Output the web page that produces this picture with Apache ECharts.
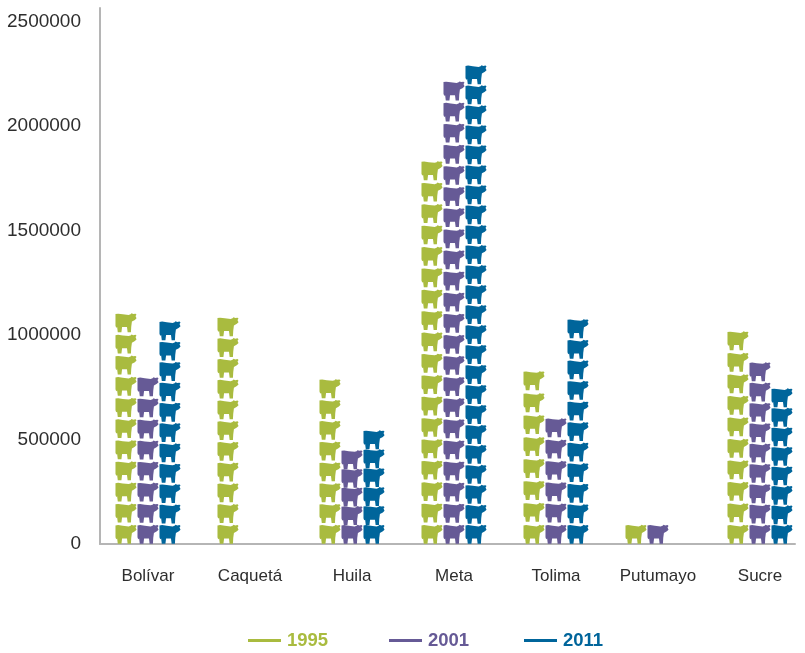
<!DOCTYPE html>
<html>
<head>
<meta charset="utf-8">
<style>
  html, body { margin: 0; padding: 0; background: #fff; }
  #chart { width: 805px; height: 653px; }
</style>
<script src="https://cdn.jsdelivr.net/npm/echarts@6/dist/echarts.min.js"></script>
</head>
<body>
<div id="chart"></div>
<script>
const departments = ['Bolívar', 'Caquetá', 'Huila', 'Meta', 'Tolima', 'Putumayo', 'Sucre'];

const values1995 = [1105000, 1086000, 790000, 1833000, 828000, 91000, 1019000];
const values2001 = [799000, null, 450000, 2215000, 603000, 77000, 871000];
const values2011 = [1067000, null, 545000, 2292000, 1077000, null, 746000];

// how many cows are stacked in each bar
const cows1995 = [11, 11, 8, 18, 8, 1, 10];
const cows2001 = [8, 0, 5, 22, 6, 1, 9];
const cows2011 = [11, 0, 6, 24, 11, 0, 8];

const colors = { 1995: '#a9bb3f', 2001: '#665a96', 2011: '#00659b' };
const axisColor = '#b5b5b5';
const textColor = '#2e2e2e';
const fontFamily = '"Liberation Sans", sans-serif';
const yMax = 2565000;

const cowPath = 'path://M0 2 L8 1 L22 3 L40 5 L46 3 L49 0 L54 2 L61 1 L64 4 L61 8 L64 15 L59 20 ' +
  'L50 25 L48 40 L47 58 L37 58 L35 42 L20 42 L18 58 L7 58 L5 42 L2 44 L0 38 Z';

function cowSeries(name, values, counts) {
  return {
    type: 'pictorialBar',
    name: name,
    xAxisIndex: 0,
    yAxisIndex: 0,
    barWidth: 22,
    barGap: '0%',
    symbol: cowPath,
    symbolSize: [21, 19],
    itemStyle: { color: colors[name], borderColor: colors[name], borderWidth: 0.5 },
    data: values.map((v, i) => ({
      value: v,
      symbolBoundingData: v,
      symbolRepeat: counts[i] || 1
    }))
  };
}

function legendFor(name, left) {
  return {
    left: left,
    top: 631,
    padding: 0,
    itemWidth: 33,
    itemHeight: 3,
    itemGap: 0,
    data: [{
      name: name,
      icon: 'rect',
      itemStyle: { color: colors[name], borderWidth: 0 },
      textStyle: { color: colors[name] }
    }],
    textStyle: {
      fontFamily: fontFamily,
      fontSize: 18.5,
      fontWeight: 'bold',
      padding: [0, 0, 0, 1]
    }
  };
}

const chart = echarts.init(document.getElementById('chart'));
window.addEventListener('resize', function() {
  chart.resize();
});

chart.setOption({
  animation: false,
  backgroundColor: '#ffffff',
  legend: [legendFor('1995', 248), legendFor('2001', 389), legendFor('2011', 524)],
  // first grid carries the cows, second only draws the visible axis lines
  grid: [
    { left: 97, width: 714, top: 8, bottom: 109, outerBoundsMode: 'none' },
    { left: 100, width: 695, top: 8, bottom: 109, outerBoundsMode: 'none' }
  ],
  xAxis: [
    {
      type: 'category',
      gridIndex: 0,
      data: departments,
      axisLine: { show: false },
      axisTick: { show: false },
      axisLabel: {
        color: textColor,
        fontFamily: fontFamily,
        fontSize: 17,
        interval: 0,
        margin: 24
      }
    },
    {
      type: 'category',
      gridIndex: 1,
      data: departments,
      axisLine: { lineStyle: { color: axisColor, width: 2 } },
      axisTick: { show: false },
      axisLabel: { show: false }
    }
  ],
  yAxis: [
    {
      type: 'value',
      gridIndex: 0,
      min: 0,
      max: yMax,
      show: false,
      splitLine: { show: false }
    },
    {
      type: 'value',
      gridIndex: 1,
      min: 0,
      max: yMax,
      interval: 500000,
      axisLine: { show: true, lineStyle: { color: axisColor, width: 2 } },
      axisTick: { show: false },
      splitLine: { show: false },
      axisLabel: {
        color: textColor,
        fontFamily: fontFamily,
        fontSize: 19,
        margin: 19,
        showMaxLabel: false,
        formatter: function (value) {
          return String(value);
        }
      }
    }
  ],
  series: [
    cowSeries('1995', values1995, cows1995),
    cowSeries('2001', values2001, cows2001),
    cowSeries('2011', values2011, cows2011)
  ]
});
</script>
</body>
</html>
